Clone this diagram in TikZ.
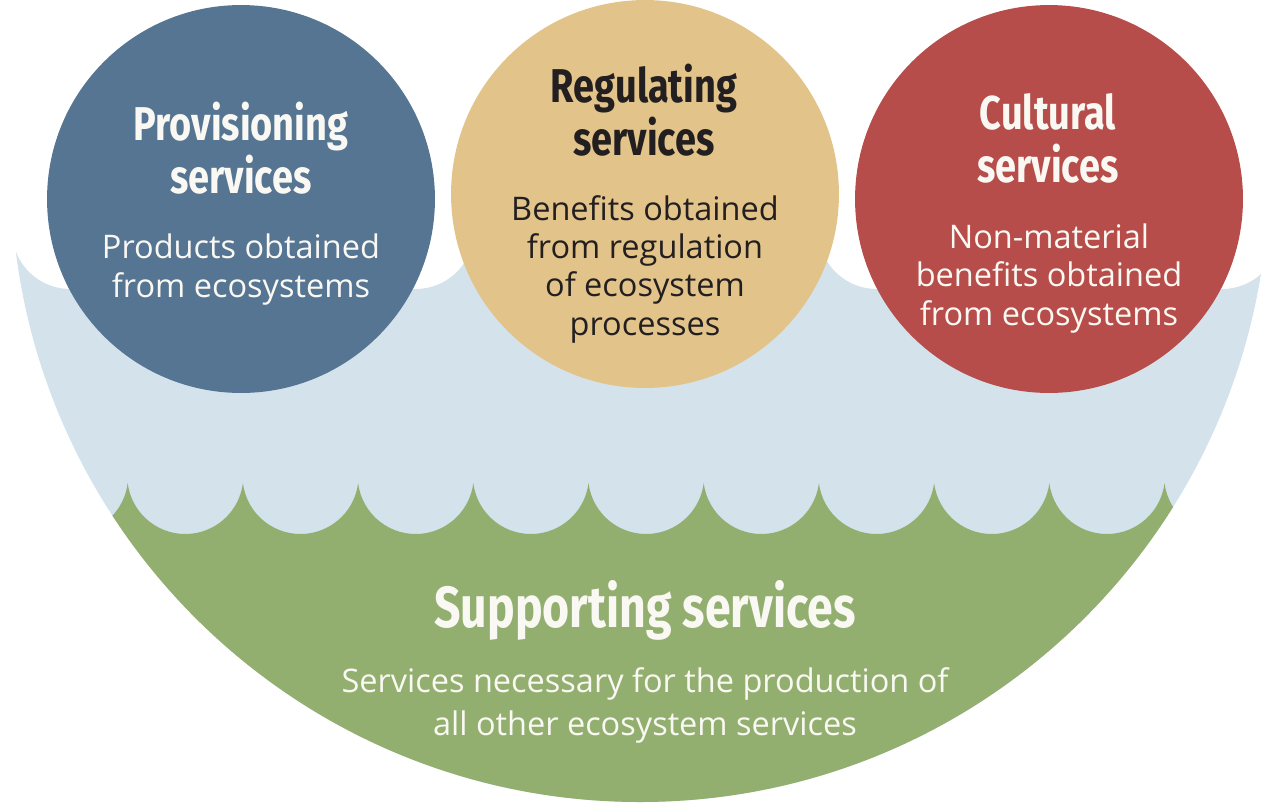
\documentclass[tikz,border=0pt]{standalone}
\usepackage{fontspec}
\setmainfont{Open Sans}
\newfontfamily\headfont[FakeStretch=0.8]{Fira Sans}
\usetikzlibrary{positioning}

\definecolor{provblue}{RGB}{85,117,147}
\definecolor{regsand}{RGB}{226,196,139}
\definecolor{cultred}{RGB}{183,77,74}
\definecolor{waterblue}{RGB}{211,226,235}
\definecolor{soilgreen}{RGB}{146,175,112}
\definecolor{paper}{RGB}{250,248,242}
\definecolor{ink}{RGB}{35,31,32}

\tikzset{
    service/.style={circle, inner sep=0pt, minimum size=7.76cm},
    headline/.style={anchor=base, align=center, font={\headfont\bfseries\fontsize{27}{30}\selectfont}},
    blurb/.style={anchor=base, align=center, font={\fontsize{18.5}{21.8}\selectfont}}
}

\begin{document}
\begin{tikzpicture}[x=0.02cm, y=-0.02cm]
    % Frame of the picture
    \useasboundingbox (0,0) rectangle (1271,802);

    % Bowl and scallop parameters
    \def\bx{640} % bowl centre x
    \def\by{173} % bowl centre y
    \def\br{629} % bowl radius
    \def\sx{12.5} % first cusp
    \def\sr{58.03} % scallop radius

    \begin{scope}
        \clip (\bx,\by) circle[radius=\br];
        % Water layer with a wavy top
        \fill[waterblue] (\sx,238)
            \foreach \i in {1,...,11} {arc[start angle=173.04, end angle=6.96, radius=\sr]}
            -- (1300,238) -- (1300,820) -- (-20,820) -- cycle;
        % Ground layer with a scalloped top
        \fill[soilgreen] (\sx,483)
            \foreach \i in {1,...,11} {arc[start angle=173.04, end angle=6.96, radius=\sr]}
            -- (1300,483) -- (1300,820) -- (-20,820) -- cycle;
    \end{scope}

    % The three service circles
    \node[service, fill=provblue] (prov) at (241,199) {};
    \node[service, fill=regsand] (reg) at (645,194) {};
    \node[service, fill=cultred] (cult) at (1049,199) {};

    % Provisioning services (anchors sit on the last line)
    \node[headline, text=paper] (provhead) at (241,193) {Provisioning\\services};
    \node[blurb, text=paper] (provtext) at (241,297) {Products obtained\\from ecosystems};

    % Regulating services
    \node[headline, text=ink] (reghead) at (644,155) {Regulating\\services};
    \node[blurb, text=ink] (regtext) at (645,335) {Benefits obtained\\from regulation\\of ecosystem\\processes};

    % Cultural services
    \node[headline, text=paper] (culthead) at (1048,182) {Cultural\\services};
    \node[blurb, text=paper] (culttext) at (1049,325) {Non-material\\benefits obtained\\from ecosystems};

    % Supporting services
    \node[anchor=base, text=paper, font={\headfont\bfseries\fontsize{33}{36}\selectfont}] (suphead) at (645,627) {Supporting services};
    \node[anchor=base, align=center, text=paper, font={\fontsize{18.5}{24.4}\selectfont}] (suptext) at (645,735) {Services necessary for the production of\\all other ecosystem services};
\end{tikzpicture}
\end{document}
